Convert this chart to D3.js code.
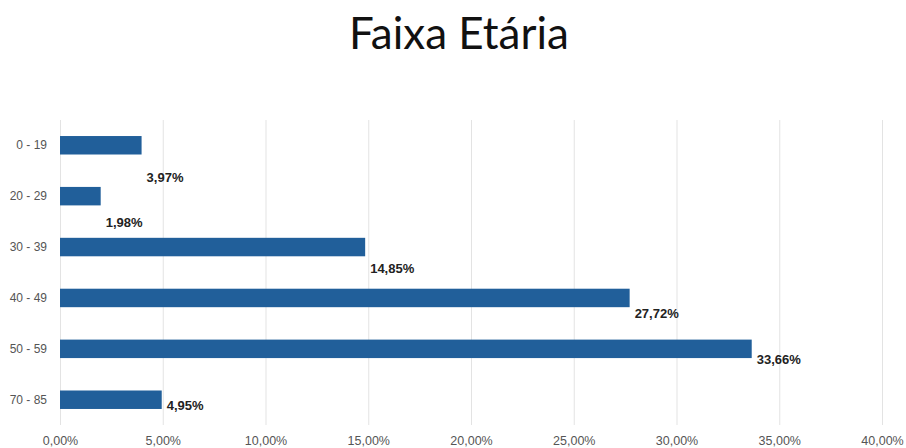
<!DOCTYPE html>
<html>
<head>
<meta charset="utf-8">
<script src="https://cdn.jsdelivr.net/npm/d3@7"></script>
<style>
  html, body { margin: 0; padding: 0; background: #fff; }
  svg { display: block; }
</style>
</head>
<body>
<svg id="chart" width="906" height="448"></svg>
<script>
const title = "Faixa Etária";
const categories = ["0 - 19", "20 - 29", "30 - 39", "40 - 49", "50 - 59", "70 - 85"];
const values = [3.97, 1.98, 14.85, 27.72, 33.66, 4.95];
const valueLabels = ["3,97%", "1,98%", "14,85%", "27,72%", "33,66%", "4,95%"];
const xTicks = [0, 5, 10, 15, 20, 25, 30, 35, 40];

const svg = d3.select("#chart");
const fmt = v => d3.format(".2f")(v).replace(".", ",") + "%";

const x = d3.scaleLinear().domain([0, 40]).range([60, 882]);
const y = d3.scaleBand().domain(categories).range([120, 425]).paddingInner(0.637).paddingOuter(0.315);
const yLabel = d3.scalePoint().domain(categories).range([177, 405]);

svg.append("text")
  .attr("x", 459).attr("y", 49)
  .attr("text-anchor", "middle")
  .attr("font-family", "Lato, sans-serif")
  .attr("font-size", 44)
  .attr("fill", "#111")
  .text(title);

// gridlines
svg.append("g").selectAll("line").data(xTicks).join("line")
  .attr("x1", d => x(d) + 0.5).attr("x2", d => x(d) + 0.5)
  .attr("y1", 120).attr("y2", 425)
  .attr("stroke", "#e3e3e3").attr("stroke-width", 1);

// x axis
const xAxis = d3.axisBottom(x).tickValues(xTicks).tickFormat(fmt).tickSize(0).tickPadding(0);
const gx = svg.append("g").attr("transform", "translate(0,436)").call(xAxis);
gx.select(".domain").remove();
gx.selectAll("text")
  .attr("font-family", "Liberation Sans, Arial, sans-serif")
  .attr("font-size", 12.5).attr("fill", "#555")
  .attr("dy", "0.71em");

// y axis
const yAxis = d3.axisLeft(y).tickSize(0).tickPadding(13);
const gy = svg.append("g").attr("transform", "translate(60,0)").call(yAxis);
gy.select(".domain").remove();
gy.selectAll("text")
  .attr("font-family", "Liberation Sans, Arial, sans-serif")
  .attr("font-size", 12).attr("fill", "#555");

// bars
svg.append("g").selectAll("rect").data(categories).join("rect")
  .attr("x", x(0))
  .attr("y", d => y(d))
  .attr("width", (d, i) => x(values[i]) - x(0))
  .attr("height", y.bandwidth())
  .attr("fill", "#215f9a");

// value labels
svg.append("g").selectAll("text").data(categories).join("text")
  .attr("x", (d, i) => x(values[i]) + 5)
  .attr("y", d => yLabel(d))
  .attr("dy", "0.35em")
  .attr("font-family", "Liberation Sans, Arial, sans-serif")
  .attr("font-size", 13).attr("font-weight", "bold")
  .attr("fill", "#222")
  .text((d, i) => valueLabels[i]);
</script>
</body>
</html>
